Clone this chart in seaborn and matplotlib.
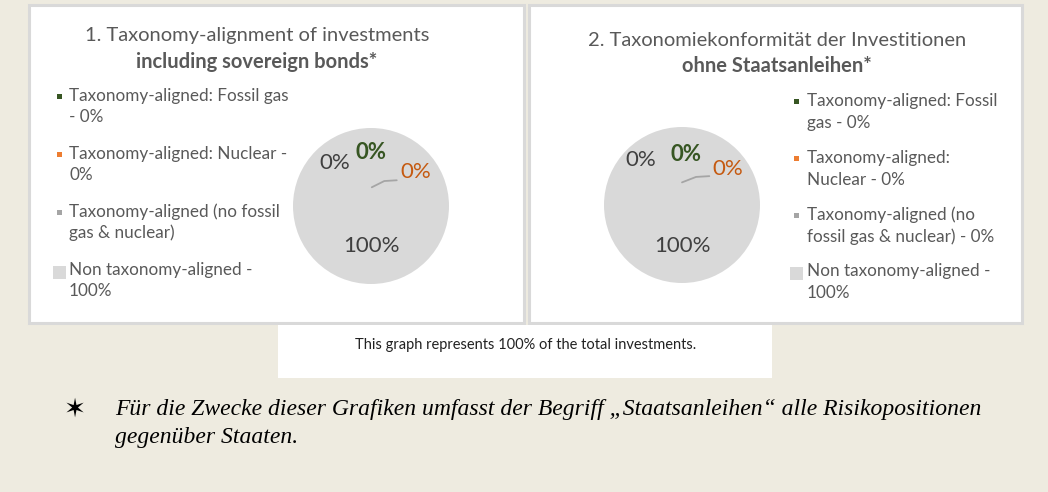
import matplotlib
matplotlib.use("Agg")
import matplotlib.pyplot as plt
from matplotlib.patches import Rectangle
import seaborn as sns

# ---- data ----
categories = ["Taxonomy-aligned: Fossil gas", "Taxonomy-aligned: Nuclear",
              "Taxonomy-aligned (no fossil gas & nuclear)", "Non taxonomy-aligned"]
values_incl = [0, 0, 0, 100]
values_excl = [0, 0, 0, 100]
slice_colors = ["#375623", "#ED7D31", "#A5A5A5", "#D9D9D9"]
label_colors = ["#375623", "#C55A11", "#404040", "#404040"]

title1 = ["1. Taxonomy-alignment of investments", "including sovereign bonds*"]
title2 = ["2. Taxonomiekonformität der Investitionen", "ohne Staatsanleihen*"]
legend1 = ["Taxonomy-aligned: Fossil gas\n- 0%", "Taxonomy-aligned: Nuclear -\n0%",
           "Taxonomy-aligned (no fossil\ngas & nuclear)", "Non taxonomy-aligned -\n100%"]
legend2 = ["Taxonomy-aligned: Fossil\ngas - 0%", "Taxonomy-aligned:\nNuclear - 0%",
           "Taxonomy-aligned (no\nfossil gas & nuclear) - 0%", "Non taxonomy-aligned -\n100%"]
note_text = "This graph represents 100% of the total investments."
footnote = "Für die Zwecke dieser Grafiken umfasst der Begriff „Staatsanleihen“ alle Risikopositionen\ngegenüber Staaten."

sns.set_style("white")
plt.rcParams["font.family"] = ["Lato", "DejaVu Sans"]

W, H = 1048, 492
BEIGE = "#EEEBE0"
TXT = "#595959"
fig = plt.figure(figsize=(W / 100, H / 100), dpi=100, facecolor=BEIGE)
bg = fig.add_axes([0, 0, 1, 1])
bg.set_xlim(0, W)
bg.set_ylim(H, 0)
bg.axis("off")
bg.set_facecolor(BEIGE)

# panels
for x0, x1 in [(29, 524), (529, 1022)]:
    bg.add_patch(Rectangle((x0, 5), x1 - x0, 318, facecolor="white",
                           edgecolor="#D9D9D9", lw=2.2, zorder=1))
bg.add_patch(Rectangle((278, 325), 494, 53, facecolor="white", edgecolor="none", zorder=1))

# titles
for (cx, y0), t in [((257, 36), title1), ((777, 40), title2)]:
    bg.text(cx, y0, t[0], ha="center", va="center", fontsize=14.5, color=TXT, zorder=3)
    bg.text(cx, y0 + 26, t[1], ha="center", va="center", fontsize=14.5,
            fontweight="bold", color=TXT, zorder=3)

# legends
def draw_legend(mx, tx, ys, labels, gap):
    for i, (y, lab) in enumerate(zip(ys, labels)):
        s = 5 if i < 3 else 13
        bg.add_patch(Rectangle((mx - s / 2, y - s / 2 + (0 if i < 3 else 2)), s, s,
                               facecolor=slice_colors[i], edgecolor="none", zorder=3))
        first, second = lab.split("\n")
        bg.text(tx, y, first, ha="left", va="center", fontsize=12.3, color=TXT, zorder=3)
        bg.text(tx, y + gap, second, ha="left", va="center", fontsize=12.3, color=TXT, zorder=3)

draw_legend(59, 69, [96, 154, 212, 270], legend1, 21)
draw_legend(796, 807, [101, 158, 215, 271], legend2, 22)

# pies
R = 78
def draw_pie(cx, cy, vals, lab_pos, leader):
    ax = fig.add_axes([(cx - R) / W, (H - cy - R) / H, 2 * R / W, 2 * R / H])
    ax.pie(vals, colors=slice_colors, startangle=90, counterclock=False,
           wedgeprops=dict(linewidth=0))
    ax.set_xlim(-1, 1)
    ax.set_ylim(-1, 1)
    ax.set_aspect("equal")
    ax.axis("off")
    for i, (v, (px, py)) in enumerate(zip(vals, lab_pos)):
        ax.text(px, py, f"{v:.0f}%", ha="center", va="center", fontsize=16,
                color=label_colors[i], fontweight="bold" if i == 0 else "normal",
                clip_on=False)
    xs, ys = zip(*leader)
    ax.plot(xs, ys, color="#A5A5A5", lw=1.3, clip_on=False)

draw_pie(371, 206, values_incl,
         [(0.0, 0.69), (0.58, 0.44), (-0.46, 0.55), (0.0, -0.51)],
         [(0.01, 0.24), (0.17, 0.32), (0.33, 0.33)])
draw_pie(682, 205, values_excl,
         [(0.05, 0.65), (0.59, 0.46), (-0.53, 0.58), (0.0, -0.53)],
         [(0.0, 0.29), (0.18, 0.36), (0.35, 0.37)])

# notes
bg.text(526, 345, note_text, ha="center", va="center", fontsize=10.5, color="#222222", zorder=3)
bg.text(75, 410, "\u2736", ha="center", va="center", fontsize=19, color="black",
        family="DejaVu Sans", fontweight="bold", zorder=3)
bg.text(115, 410, footnote.split("\n")[0], ha="left", va="center", fontsize=17, style="italic",
        family="Liberation Serif", color="black", zorder=3)
bg.text(115, 437, footnote.split("\n")[1], ha="left", va="center", fontsize=17, style="italic",
        family="Liberation Serif", color="black", zorder=3)

fig.savefig("out.png", dpi=100, facecolor=BEIGE)
